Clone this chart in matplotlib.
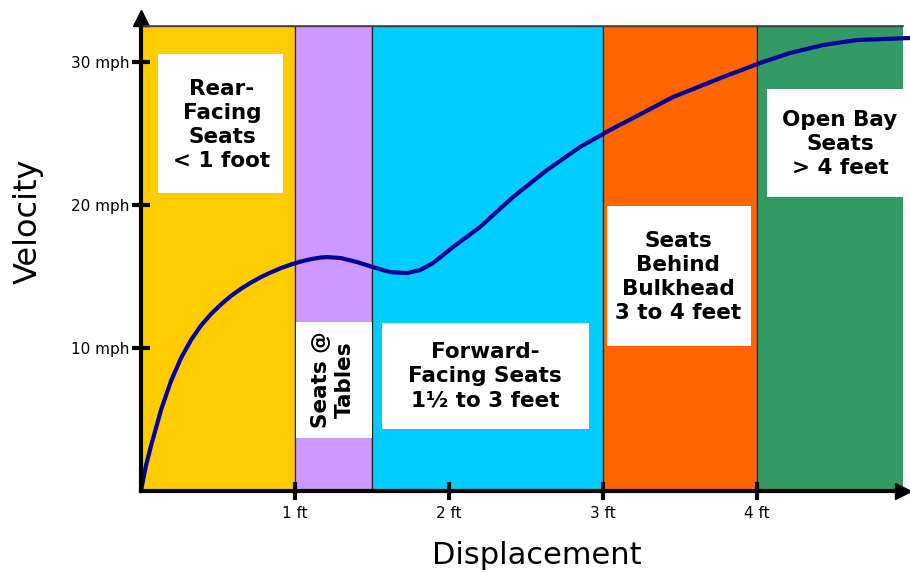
import matplotlib.pyplot as plt
from matplotlib.patches import Rectangle

# velocity curve (displacement in ft, velocity in mph)
disp_ft = [0.0, 0.032, 0.065, 0.130, 0.195, 0.260, 0.325, 0.390, 0.455, 0.519,
           0.584, 0.649, 0.714, 0.779, 0.844, 0.909, 0.974, 1.039, 1.104, 1.169,
           1.208, 1.299, 1.403, 1.506, 1.617, 1.727, 1.812, 1.896, 1.961, 2.026,
           2.201, 2.416, 2.636, 2.851, 3.045, 3.455, 3.779, 4.019, 4.214, 4.429,
           4.649, 4.994]
velocity_mph = [0.0, 1.75, 3.15, 5.66, 7.69, 9.30, 10.56, 11.57, 12.38, 13.04,
                13.64, 14.14, 14.57, 14.96, 15.29, 15.59, 15.84, 16.05, 16.22, 16.33,
                16.36, 16.29, 16.01, 15.66, 15.31, 15.24, 15.45, 15.94, 16.50, 17.06,
                18.46, 20.56, 22.45, 24.06, 25.24, 27.55, 28.95, 29.93, 30.63, 31.19,
                31.54, 31.68]

# seating zones: start, end, colour, label
zone_edges = [0, 1, 1.5, 3, 4, 5]
zone_colors = ["#FFCC00", "#CC99FF", "#00CCFF", "#FF6600", "#339966"]
zone_labels = ["Rear-\nFacing\nSeats\n< 1 foot", "Seats @\nTables",
               "Forward-\nFacing Seats\n1½ to 3 feet",
               "Seats\nBehind\nBulkhead\n3 to 4 feet", "Open Bay\nSeats\n> 4 feet"]

x_ticks = [1, 2, 3, 4]
x_tick_labels = ["1 ft", "2 ft", "3 ft", "4 ft"]
y_ticks = [10, 20, 30]
y_tick_labels = ["10 mph", "20 mph", "30 mph"]

plt.rcParams["font.family"] = ["DejaVu Sans"]

fig = plt.figure(figsize=(9.1, 5.73), dpi=100)
ax = fig.add_axes([0.1549, 0.1431, 0.8374, 0.8115])
ax.set_xlim(0, 4.948)
ax.set_ylim(0, 32.52)

# === Coloured zones ===
for i, col in enumerate(zone_colors):
    ax.axvspan(zone_edges[i], zone_edges[i + 1], facecolor=col,
               edgecolor="#222222", lw=0.9, zorder=0)

# white label boxes: (x0, x1, y0, y1), text centre, rotation
boxes = [
    ((0.110, 0.922, 20.84, 30.56), (0.526, 25.6), 0),
    ((1.006, 1.500, 3.71, 11.82), (1.247, 7.76), 90),
    ((1.565, 2.909, 4.34, 11.75), (2.234, 8.04), 0),
    ((3.026, 3.961, 10.14, 19.93), (3.487, 14.97), 0),
    ((4.065, 4.948, 20.56, 28.11), (4.539, 24.27), 0),
]
for (x0, x1, y0, y1), (tx, ty), rot in boxes:
    ax.add_patch(Rectangle((x0, y0), x1 - x0, y1 - y0, facecolor="white",
                           edgecolor="none", zorder=1))
for label, (_, (tx, ty), rot) in zip(zone_labels, boxes):
    ax.text(tx, ty, label, ha="center", va="center", multialignment="center",
            rotation=rot, fontsize=15.5, fontweight="bold", linespacing=1.25,
            zorder=2)

# === Curve ===
ax.plot(disp_ft, velocity_mph, color="#000099", lw=3, zorder=3,
        solid_capstyle="round", solid_joinstyle="round", clip_on=False)

# === Axes styling ===
for side in ["left", "bottom"]:
    ax.spines[side].set_linewidth(3)
    ax.spines[side].set_color("black")
    ax.spines[side].set_zorder(4)
ax.spines["right"].set_visible(False)
ax.spines["top"].set_color("#444444")
ax.spines["top"].set_linewidth(1.2)

ax.set_xticks(x_ticks)
ax.set_xticklabels(x_tick_labels)
ax.set_yticks(y_ticks)
ax.set_yticklabels(y_tick_labels)
ax.tick_params(direction="inout", length=13, width=3, labelsize=11)
ax.tick_params(axis="x", pad=4)
ax.tick_params(axis="y", pad=2)

# arrow heads
ax.plot(0, 1.0172, "^k", markersize=11.5, transform=ax.transAxes, clip_on=False)
ax.plot(1, 0, ">k", markersize=11.5, transform=ax.transAxes, clip_on=False)

fig.text(0.590, 0.0314, "Displacement", ha="center", va="center", fontsize=22)
fig.text(0.0308, 0.614, "Velocity", ha="center", va="center", fontsize=23,
         rotation=90)

fig.savefig("out.png", dpi=100)
